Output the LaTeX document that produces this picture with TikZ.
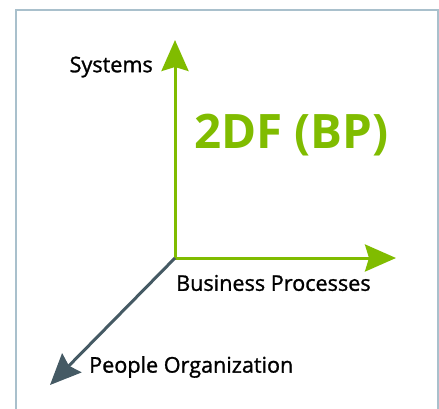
\documentclass[tikz,border=0pt]{standalone}
\usepackage{fontspec}
\setmainfont{Open Sans}
\newfontfamily\lblfont[FakeBold=1.2]{Open Sans}
\usetikzlibrary{arrows.meta}
\definecolor{axgreen}{RGB}{128,188,0}
\definecolor{axslate}{RGB}{69,90,100}
\definecolor{framecol}{RGB}{169,192,204}
\tikzset{
  axisarrow/.style={line width=3pt,-{Stealth[length=31pt,width=27pt,inset=4pt]}},
  lbl/.style={font=\lblfont\fontsize{21.6}{24}\selectfont,text=black,inner sep=0pt},
}
\begin{document}
\begin{tikzpicture}[x=1pt,y=-1pt]
\useasboundingbox (0,0) rectangle (439,408);
\draw[framecol,line width=2pt] (16,409) -- (16,10) -- (438,10) -- (438,409);
\coordinate (O) at (175,258);
\coordinate (ys) at (175,40);
\coordinate (xs) at (396,258);
\coordinate (zs) at (50,385);
\draw[axisarrow,axgreen,line cap=rect] (O) -- (ys);
\draw[axisarrow,axgreen] (O) -- (xs);
\draw[axisarrow,axslate] (O) -- (zs);
\node[lbl,anchor=east] (sys) at (153,67) {Systems};
\node[lbl,anchor=west] (bp) at (176,283) {Business Processes};
\node[lbl,anchor=west] (po) at (89,367) {People Organization};
\node[inner sep=0pt,anchor=west,text=axgreen,font=\fontsize{47.5}{52}\bfseries] (title) at (194,135) {2DF (BP)};
\end{tikzpicture}
\end{document}
